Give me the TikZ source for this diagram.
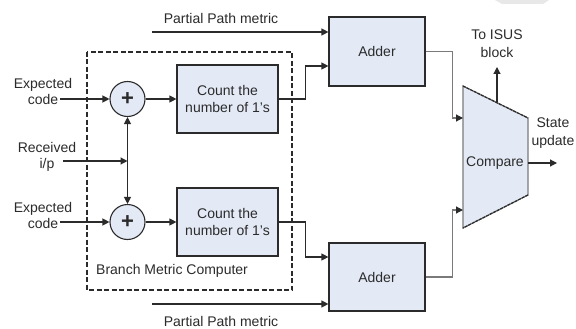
\documentclass[tikz,border=0pt]{standalone}
\usepackage{fontspec}
\setmainfont{Liberation Sans}
\usetikzlibrary{arrows.meta,calc}
\definecolor{boxblue}{HTML}{E3EAF6}
\definecolor{ink}{HTML}{2B2B2B}
\definecolor{grayline}{HTML}{7A7A7A}
\tikzset{
  lbl/.style={font=\fontsize{14}{16}\selectfont, text=ink, align=center, inner sep=0pt},
  blk/.style={draw=ink, line width=1.2pt, fill=boxblue, minimum width=101pt, minimum height=68pt, inner sep=0pt, font=\fontsize{14}{17}\selectfont, text=ink, align=center},
  sumc/.style={circle, draw=ink, line width=1.1pt, fill=boxblue, minimum size=35pt, inner sep=0pt, font=\fontsize{22}{22}\selectfont\bfseries, text=ink},
  arr/.style={draw=ink, line width=1.2pt, -{Triangle[length=7pt,width=7pt]}},
  garr/.style={draw=grayline, line width=1.2pt, -{Triangle[length=7pt,width=7pt,color=ink]}},
}
\begin{document}
\begin{tikzpicture}[x=1pt,y=-1pt]
\useasboundingbox (0,0) rectangle (576,329);
\fill[white] (0,0) rectangle (576,329);
% top-right artifact
\fill[gray!18] (495,0) -- (549,0) -- (543,4) -- (502,4) -- cycle;

% dashed branch metric box
\draw[ink, line width=1.1pt, dash pattern=on 5pt off 2.5pt] (87,52) rectangle (292,290);
\node[lbl, anchor=west] (bmc) at (96,271) {Branch Metric Computer};

% blocks
\node[blk] (cnt1) at (227.5,99) {Count the\\number of 1's};
\node[blk] (cnt2) at (227.5,222) {Count the\\number of 1's};
\node[sumc] (s1) at (127.5,99) {+};
\node[sumc] (s2) at (127.5,222) {+};
\node[blk, minimum width=96pt, minimum height=69pt] (add1) at (377,51.5) {Adder};
\node[blk, minimum width=96pt, minimum height=68pt] (add2) at (377,277) {Adder};

% compare trapezoid
\coordinate (c1) at (463,86);
\coordinate (c2) at (528,118);
\coordinate (c3) at (528,195);
\coordinate (c4) at (463,228);
\draw[grayline, line width=1.2pt, fill=boxblue] (c1) -- (c2) -- (c3) -- (c4) -- cycle;
\draw[ink, line width=1.2pt, dash pattern=on 3pt off 1pt] (c1) -- (c2);
\draw[ink, line width=1.2pt, dash pattern=on 3pt off 1pt] (c3) -- (c4);
\node[lbl] (cmp) at (495,163) {Compare};

% labels
\node[lbl] (ec1) at (43,91) {Expected\\code};
\node[lbl] (ec2) at (43,215) {Expected\\code};
\node[lbl] (rcv) at (47,157) {Received\\i/p};
\node[lbl] (ppm1) at (221,18) {Partial Path metric};
\node[lbl] (ppm2) at (221,321) {Partial Path metric};
\node[lbl, font=\fontsize{14}{18}\selectfont] (isus) at (497,44) {To ISUS\\block};
\node[lbl, font=\fontsize{14}{18}\selectfont] (su) at (553,133) {State\\update};

% coordinates for free ends
\coordinate (ec1e) at (60,99);
\coordinate (ec2e) at (60,222);
\coordinate (rxe) at (63,161);
\coordinate (j) at (127.5,161);
\coordinate (pp1) at (152,32);
\coordinate (pp2) at (152,304);
\coordinate (cin1) at (463,118);
\coordinate (cin2) at (463,210);
\coordinate (is0) at (497,102);
\coordinate (is1) at (497,67);
\coordinate (so0) at (528,163);
\coordinate (so1) at (557,163);

% connectors
\draw[arr] (ec1e) -- (s1);
\draw[arr] (ec2e) -- (s2);
\draw[arr] (rxe) -- (j);
\draw[arr] (j) -- (s1);
\draw[arr] (j) -- (s2);
\draw[arr] (s1) -- (cnt1);
\draw[arr] (s2) -- (cnt2);
\draw[arr] (cnt1.east) -- ++(27,0) |- ([yshift=-14.5pt]add1.west);
\draw[arr] (cnt2.east) -- ++(27,0) |- ([yshift=20pt]add2.west);
\draw[arr] (pp1) -- (pp1 -| add1.west);
\draw[arr] (pp2) -- (pp2 -| add2.west);
\draw[garr] (add1.east) -- ++(27,0) |- (cin1);
\draw[garr] (add2.east) -- ++(27,0) |- (cin2);
\draw[arr] (is0) -- (is1);
\draw[arr] (so0) -- (so1);
\end{tikzpicture}
\end{document}
